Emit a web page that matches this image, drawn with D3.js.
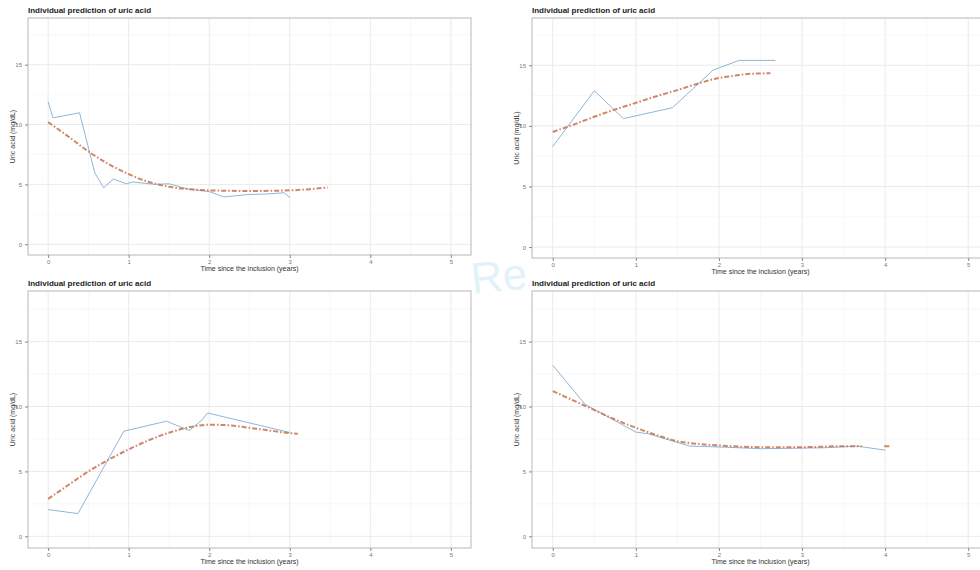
<!DOCTYPE html>
<html>
<head>
<meta charset="utf-8">
<script src="https://cdn.jsdelivr.net/npm/d3@7"></script>
<style>
  body { margin: 0; background: #fff; }
  svg { display: block; font-family: "Liberation Sans", Arial, sans-serif; }
</style>
</head>
<body>
<svg width="980" height="570"></svg>
<script>
// observed values (blue) and individual predictions (orange), one pair per panel
var obs1T = [0, 0.06, 0.39, 0.58, 0.69, 0.81, 0.97, 1.05, 1.33, 1.5, 1.74, 2.0, 2.18, 2.26, 2.47, 2.72, 2.93, 3.0],
    obs1Y = [11.9, 10.56, 10.98, 5.95, 4.72, 5.45, 5.05, 5.2, 5.0, 5.05, 4.6, 4.4, 3.95, 4.0, 4.15, 4.2, 4.3, 3.9];
var pred1T = [0, 0.25, 0.5, 0.75, 1, 1.25, 1.5, 1.75, 2, 2.5, 3, 3.25, 3.47],
    pred1Y = [10.2, 9.0, 7.75, 6.7, 5.85, 5.2, 4.8, 4.6, 4.5, 4.45, 4.5, 4.6, 4.75];

var obs2T = [0, 0.5, 0.85, 1.44, 1.93, 2.24, 2.68],
    obs2Y = [8.3, 12.9, 10.6, 11.5, 14.6, 15.4, 15.4];
var pred2T = [0, 0.25, 0.5, 0.75, 1, 1.25, 1.5, 1.75, 2, 2.2, 2.34, 2.62],
    pred2Y = [9.5, 10.1, 10.75, 11.35, 11.9, 12.45, 12.95, 13.5, 13.95, 14.15, 14.28, 14.34];

var obs3T = [0, 0.37, 0.94, 1.47, 1.75, 1.9, 1.98, 3.0],
    obs3Y = [2.06, 1.75, 8.1, 8.87, 8.15, 8.9, 9.5, 8.0];
var pred3T = [0, 0.25, 0.5, 0.75, 1, 1.25, 1.5, 1.75, 2, 2.25, 2.5, 2.75, 3, 3.1],
    pred3Y = [2.88, 3.95, 5.0, 5.9, 6.7, 7.4, 7.98, 8.4, 8.6, 8.55, 8.36, 8.15, 7.95, 7.9];

var obs4T = [0, 0.39, 1.0, 1.15, 1.65, 2.06, 2.5, 3.26, 3.66, 4.0],
    obs4Y = [13.17, 10.16, 8.03, 7.9, 6.95, 6.87, 6.75, 6.82, 6.95, 6.64];
var pred4T = [0, 0.39, 0.75, 1, 1.25, 1.5, 1.75, 2, 2.5, 3, 3.5, 3.72],
    pred4Y = [11.19, 10.05, 9.0, 8.36, 7.8, 7.33, 7.12, 7.0, 6.87, 6.87, 6.94, 6.94];
var pred4bT = [3.99, 4.06],
    pred4bY = [6.94, 6.94];

var xTicks = [0, 1, 2, 3, 4, 5],
    yTicks = [0, 5, 10, 15];

var titleText = "Individual prediction of uric acid",
    xLabel = "Time since the inclusion (years)",
    yLabel = "Uric acid (mg/dL)";

var svg = d3.select("svg");

// faint watermark in the middle (drawn first so the panels sit on top)
svg.append("text")
    .attr("x", 470).attr("y", 292)
    .attr("transform", "rotate(-6,490,270)")
    .style("font-size", "44px").style("font-weight", "300")
    .style("fill", "#d8eefa").style("fill-opacity", 0.75)
    .text("Re");

// panel boxes
var panels = [
  {left: 28,  top: 18,  right: 471, bottom: 255, obs: [obs1T, obs1Y], pred: [[pred1T, pred1Y]]},
  {left: 532, top: 18,  right: 989, bottom: 258, obs: [obs2T, obs2Y], pred: [[pred2T, pred2Y]]},
  {left: 28,  top: 291, right: 471, bottom: 548, obs: [obs3T, obs3Y], pred: [[pred3T, pred3Y]]},
  {left: 532, top: 291, right: 989, bottom: 548, obs: [obs4T, obs4Y], pred: [[pred4T, pred4Y], [pred4bT, pred4bY]]}
];

function zipped(t, v) {
  return t.map(function(d, i) { return [d, v[i]]; });
}

panels.forEach(function(p) {
  var x = d3.scaleLinear().domain([-0.25, 5.25]).range([p.left, p.right]),
      y = d3.scaleLinear().domain([-0.9, 18.9]).range([p.bottom, p.top]);

  var g = svg.append("g");

  // minor grid
  var minorX = d3.range(0.5, 5.5, 1), minorY = d3.range(2.5, 20, 5);
  g.selectAll(".mgx").data(minorX).enter().append("line")
      .attr("x1", x).attr("x2", x).attr("y1", p.top).attr("y2", p.bottom)
      .attr("stroke", "#f3f3f3").attr("stroke-width", 0.6);
  g.selectAll(".mgy").data(minorY).enter().append("line")
      .attr("y1", y).attr("y2", y).attr("x1", p.left).attr("x2", p.right)
      .attr("stroke", "#f3f3f3").attr("stroke-width", 0.6);
  // major grid
  g.selectAll(".gx").data(xTicks).enter().append("line")
      .attr("x1", x).attr("x2", x).attr("y1", p.top).attr("y2", p.bottom)
      .attr("stroke", "#e8e8e8").attr("stroke-width", 0.9);
  g.selectAll(".gy").data(yTicks).enter().append("line")
      .attr("y1", y).attr("y2", y).attr("x1", p.left).attr("x2", p.right)
      .attr("stroke", "#e8e8e8").attr("stroke-width", 0.9);

  // observed
  var line = d3.line().x(function(d) { return x(d[0]); }).y(function(d) { return y(d[1]); });
  g.append("path")
      .datum(zipped(p.obs[0], p.obs[1]))
      .attr("d", line)
      .attr("fill", "none")
      .attr("stroke", "#8fb6d9")
      .attr("stroke-width", 1);

  // prediction
  var smooth = d3.line().curve(d3.curveMonotoneX)
      .x(function(d) { return x(d[0]); }).y(function(d) { return y(d[1]); });
  p.pred.forEach(function(pr) {
    g.append("path")
        .datum(zipped(pr[0], pr[1]))
        .attr("d", smooth)
        .attr("fill", "none")
        .attr("stroke", "#c8714f")
        .attr("stroke-opacity", 0.85)
        .attr("stroke-width", 2)
        .attr("stroke-dasharray", "5,2,1.6,2");
  });

  // border
  g.append("rect")
      .attr("x", p.left).attr("y", p.top)
      .attr("width", p.right - p.left).attr("height", p.bottom - p.top)
      .attr("fill", "none").attr("stroke", "#b8b8b8").attr("stroke-width", 1);

  // axes
  var ax = g.append("g")
      .attr("transform", "translate(0," + p.bottom + ")")
      .call(d3.axisBottom(x).tickValues(xTicks).tickSize(3).tickPadding(2).tickFormat(d3.format("d")));
  var ay = g.append("g")
      .attr("transform", "translate(" + p.left + ",0)")
      .call(d3.axisLeft(y).tickValues(yTicks).tickSize(3).tickPadding(3).tickFormat(d3.format("d")));
  [ax, ay].forEach(function(a) {
    a.select(".domain").remove();
    a.selectAll("line").attr("stroke", "#888");
    a.selectAll("text").style("font-size", "6px").style("fill", "#777").style("font-family", "Liberation Sans, Arial, sans-serif");
  });

  // texts
  g.append("text")
      .attr("x", p.left).attr("y", p.top - 5)
      .style("font-size", "8px").style("font-weight", "bold").style("fill", "#222")
      .text(titleText);
  g.append("text")
      .attr("x", (p.left + p.right) / 2).attr("y", p.bottom + 15.5)
      .attr("text-anchor", "middle")
      .style("font-size", "7px").style("fill", "#333")
      .text(xLabel);
  g.append("text")
      .attr("transform", "translate(" + (p.left - 13) + "," + ((p.top + p.bottom) / 2) + ") rotate(-90)")
      .attr("text-anchor", "middle")
      .style("font-size", "7px").style("fill", "#333")
      .text(yLabel);
});
</script>
</body>
</html>
